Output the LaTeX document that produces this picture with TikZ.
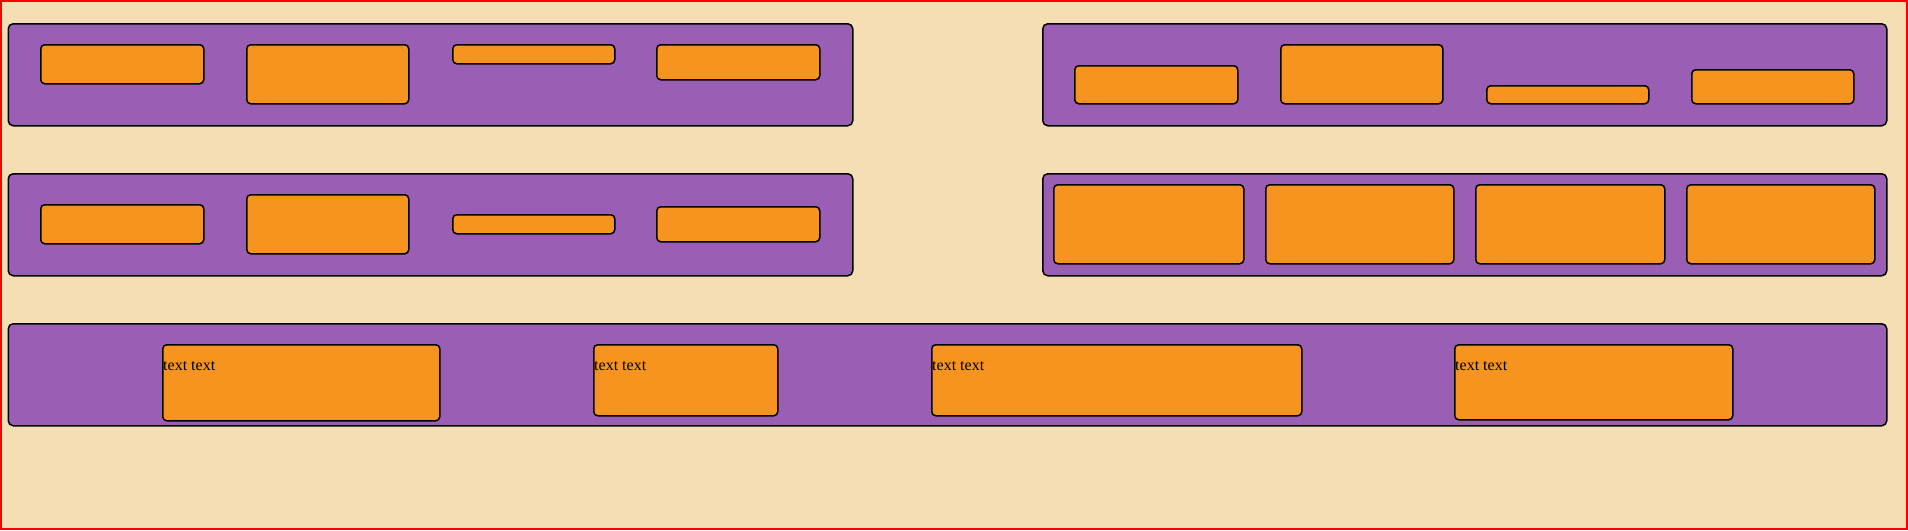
\documentclass[tikz,border=0pt]{standalone}
\usepackage{fontspec}
\setmainfont{Liberation Serif}
\definecolor{bgwheat}{HTML}{F5DEB3}
\definecolor{panelpurple}{HTML}{9A5FB5}
\definecolor{boxorange}{HTML}{F7941F}
\tikzset{
  panel/.style={draw=black, fill=panelpurple, line width=1.5pt, rounded corners=5pt, inner sep=0pt, anchor=north west},
  item/.style={draw=black, fill=boxorange, line width=1.5pt, rounded corners=4pt, inner sep=0pt, anchor=north west},
  lbl/.style={inner sep=0pt, anchor=base west, font=\fontsize{16pt}{19pt}\selectfont, text=black}
}
\newcommand{\blk}[7]{\node[#2, minimum width=#5pt, minimum height=#6pt] (#1) at (#3,#4) {};}
\begin{document}
\begin{tikzpicture}[x=1pt,y=-1pt]
\useasboundingbox (0,0) rectangle (1908,530);
\draw[red, line width=2pt, fill=bgwheat] (1,1) rectangle (1907,529);
% panel 1
\blk{p1}{panel}{7.5}{23}{844.5}{102}{}
\blk{a1}{item}{40}{44}{163}{39}{}
\blk{a2}{item}{246}{44}{162}{59}{}
\blk{a3}{item}{452}{44}{162}{19}{}
\blk{a4}{item}{656}{44}{163}{35}{}
% panel 2
\blk{p2}{panel}{1042}{23}{844}{102}{}
\blk{b1}{item}{1074}{65}{163}{38}{}
\blk{b2}{item}{1280}{44}{162}{59}{}
\blk{b3}{item}{1486}{85}{162}{18}{}
\blk{b4}{item}{1691}{69}{162}{34}{}
% panel 3
\blk{p3}{panel}{7.5}{173}{844.5}{102}{}
\blk{c1}{item}{40}{204}{163}{39}{}
\blk{c2}{item}{246}{194}{162}{59}{}
\blk{c3}{item}{452}{214}{162}{19}{}
\blk{c4}{item}{656}{206}{163}{35}{}
% panel 4
\blk{p4}{panel}{1042}{173}{844}{102}{}
\blk{d1}{item}{1053}{184}{190}{79}{}
\blk{d2}{item}{1265}{184}{188}{79}{}
\blk{d3}{item}{1475}{184}{189}{79}{}
\blk{d4}{item}{1686}{184}{188}{79}{}
% panel 5
\blk{p5}{panel}{7.5}{323}{1878.5}{102}{}
\blk{e1}{item}{162}{344}{277}{76}{}
\blk{e2}{item}{593}{344}{184}{71}{}
\blk{e3}{item}{931}{344}{370}{71}{}
\blk{e4}{item}{1454}{344}{278}{75}{}
\node[lbl] (t1) at ([xshift=1pt,yshift=-26pt]e1.north west) {text text};
\node[lbl] (t2) at ([xshift=1pt,yshift=-26pt]e2.north west) {text text};
\node[lbl] (t3) at ([xshift=1pt,yshift=-26pt]e3.north west) {text text};
\node[lbl] (t4) at ([xshift=1pt,yshift=-26pt]e4.north west) {text text};
\end{tikzpicture}
\end{document}
